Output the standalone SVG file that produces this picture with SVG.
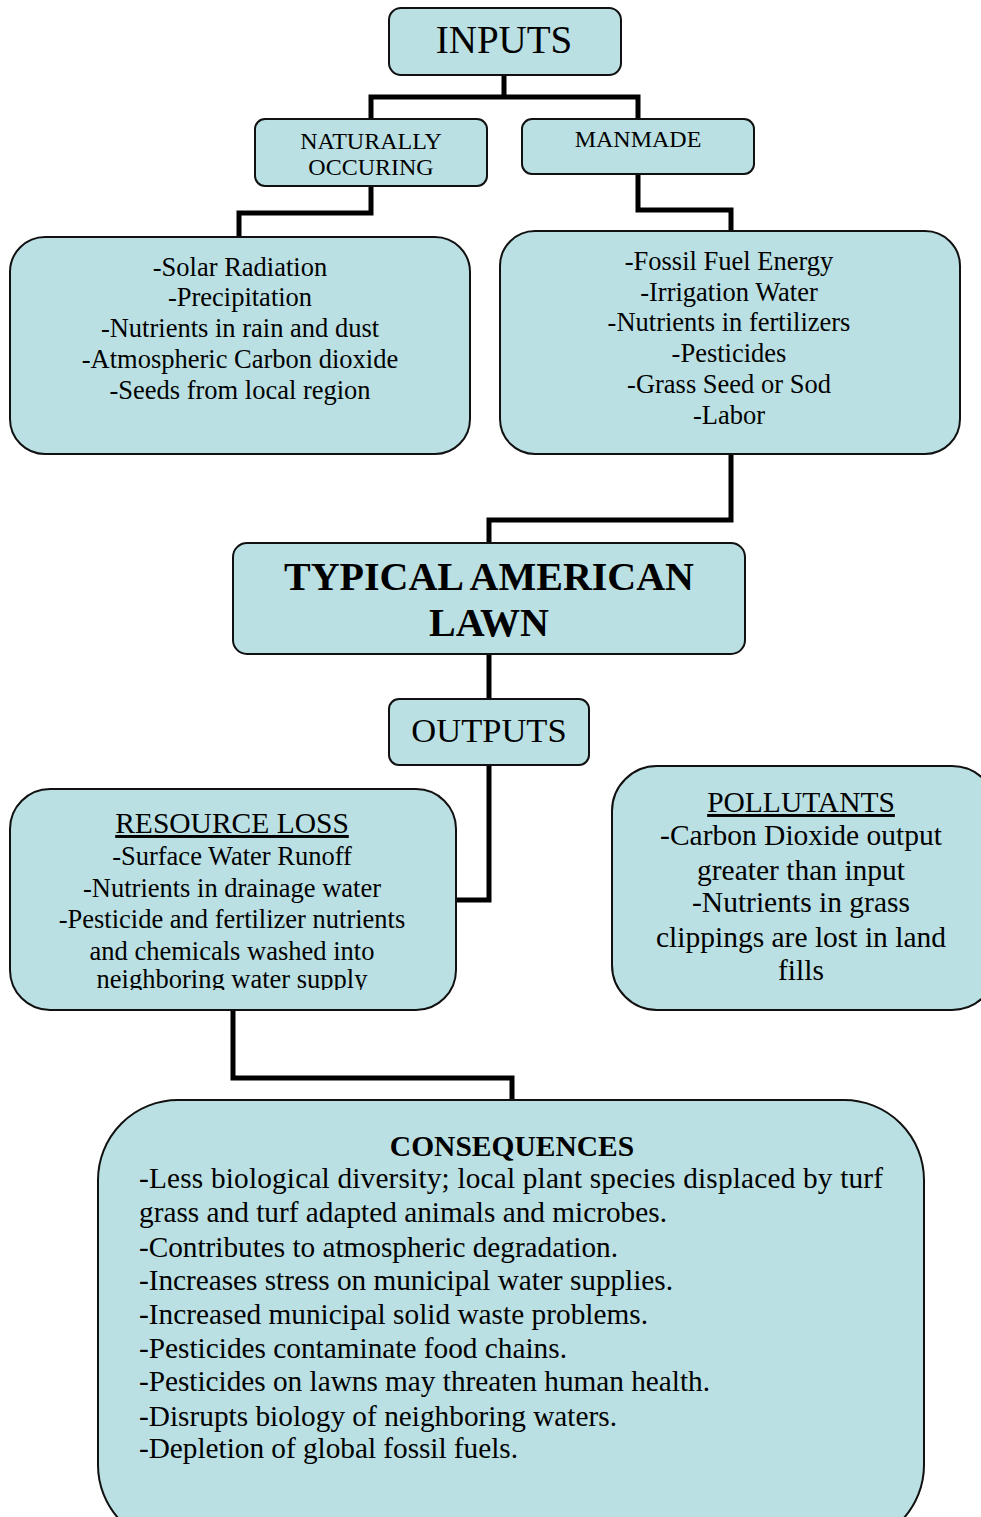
<svg xmlns="http://www.w3.org/2000/svg" width="981" height="1517" viewBox="0 0 981 1517">
<style>
.box{fill:#BAE0E3;stroke:#111;stroke-width:2}
.t{font-family:"Liberation Serif","Times New Roman",serif;fill:#000;text-anchor:middle}
.l{font-family:"Liberation Serif","Times New Roman",serif;fill:#000;text-anchor:start;font-size:29.3px}
.b{font-weight:bold}
.u{text-decoration:underline}
.s26{font-size:26.5px}
.s29{font-size:29.5px}
.conn{fill:none;stroke:#000;stroke-width:5;stroke-linejoin:miter;stroke-linecap:butt}
</style>
<defs>
<clipPath id="clipLast"><rect x="0" y="955" width="368" height="35"/></clipPath>
</defs>
<rect width="981" height="1517" fill="#fff"/>
<g id="connectors">
<path class="conn" d="M504,76 V97 M371,119 V97 H638 V119"/>
<path class="conn" d="M371,186 V213 H239 V237"/>
<path class="conn" d="M638,174 V210 H731 V231"/>
<path class="conn" d="M731,454 V520 H489 V543"/>
<path class="conn" d="M489,654 V699"/>
<path class="conn" d="M489,765 V900 H456"/>
<path class="conn" d="M233,1010 V1078 H512 V1100"/>
</g>
<g id="inputs">
<rect class="box" x="389" y="8" width="232" height="67" rx="12"/>
<text class="t" x="504" y="53" font-size="39">INPUTS</text>
</g>
<g id="naturally">
<rect class="box" x="255" y="119" width="232" height="67" rx="10"/>
<text class="t" x="371" y="149" font-size="24">NATURALLY</text>
<text class="t" x="371" y="175" font-size="24">OCCURING</text>
</g>
<g id="manmade">
<rect class="box" x="522" y="119" width="232" height="55" rx="10"/>
<text class="t" x="638" y="147" font-size="24">MANMADE</text>
</g>
<g id="natural-list">
<rect class="box" x="10" y="237" width="460" height="217" rx="35"/>
<text class="t s26" x="240" y="276">-Solar Radiation</text>
<text class="t s26" x="240" y="306">-Precipitation</text>
<text class="t s26" x="240" y="337">-Nutrients in rain and dust</text>
<text class="t s26" x="240" y="368">-Atmospheric Carbon dioxide</text>
<text class="t s26" x="240" y="399">-Seeds from local region</text>
</g>
<g id="manmade-list">
<rect class="box" x="500" y="231" width="460" height="223" rx="35"/>
<text class="t s26" x="729" y="270">-Fossil Fuel Energy</text>
<text class="t s26" x="729" y="301">-Irrigation Water</text>
<text class="t s26" x="729" y="331">-Nutrients in fertilizers</text>
<text class="t s26" x="729" y="362">-Pesticides</text>
<text class="t s26" x="729" y="393">-Grass Seed or Sod</text>
<text class="t s26" x="729" y="424">-Labor</text>
</g>
<g id="lawn">
<rect class="box" x="233" y="543" width="512" height="111" rx="14"/>
<text class="t b" x="489" y="590" font-size="40">TYPICAL AMERICAN</text>
<text class="t b" x="489" y="636" font-size="40">LAWN</text>
</g>
<g id="outputs">
<rect class="box" x="389" y="699" width="200" height="66" rx="10"/>
<text class="t" x="489" y="742" font-size="34.5">OUTPUTS</text>
</g>
<g id="resource-loss">
<rect class="box" x="10" y="789" width="446" height="221" rx="40"/>
<text class="t u s29" x="232" y="833">RESOURCE LOSS</text>
<text class="t s26" x="232" y="865">-Surface Water Runoff</text>
<text class="t s26" x="232" y="897">-Nutrients in drainage water</text>
<text class="t s26" x="232" y="928">-Pesticide and fertilizer nutrients</text>
<text class="t s26" x="232" y="960">and chemicals washed into</text>
<text class="t s26" x="232" y="988" clip-path="url(#clipLast)">neighboring water supply</text>
</g>
<g id="pollutants">
<rect class="box" x="612" y="766" width="385" height="244" rx="45"/>
<text class="t u s29" x="801" y="812">POLLUTANTS</text>
<text class="t s29" x="801" y="845">-Carbon Dioxide output</text>
<text class="t s29" x="801" y="880">greater than input</text>
<text class="t s29" x="801" y="912">-Nutrients in grass</text>
<text class="t s29" x="801" y="947">clippings are lost in land</text>
<text class="t s29" x="801" y="980">fills</text>
</g>
<g id="consequences">
<rect class="box" x="98" y="1100" width="826" height="445" rx="80"/>
<text class="t b s29" x="512" y="1156">CONSEQUENCES</text>
<text class="l" x="139" y="1188" textLength="744">-Less biological diversity; local plant species displaced by turf</text>
<text class="l" x="139" y="1222" textLength="528">grass and turf adapted animals and microbes.</text>
<text class="l" x="139" y="1257" textLength="479">-Contributes to atmospheric degradation.</text>
<text class="l" x="139" y="1290" textLength="534">-Increases stress on municipal water supplies.</text>
<text class="l" x="139" y="1324" textLength="509">-Increased municipal solid waste problems.</text>
<text class="l" x="139" y="1358" textLength="428">-Pesticides contaminate food chains.</text>
<text class="l" x="139" y="1391" textLength="571">-Pesticides on lawns may threaten human health.</text>
<text class="l" x="139" y="1426" textLength="478">-Disrupts biology of neighboring waters.</text>
<text class="l" x="139" y="1458" textLength="379">-Depletion of global fossil fuels.</text>
</g>
</svg>
